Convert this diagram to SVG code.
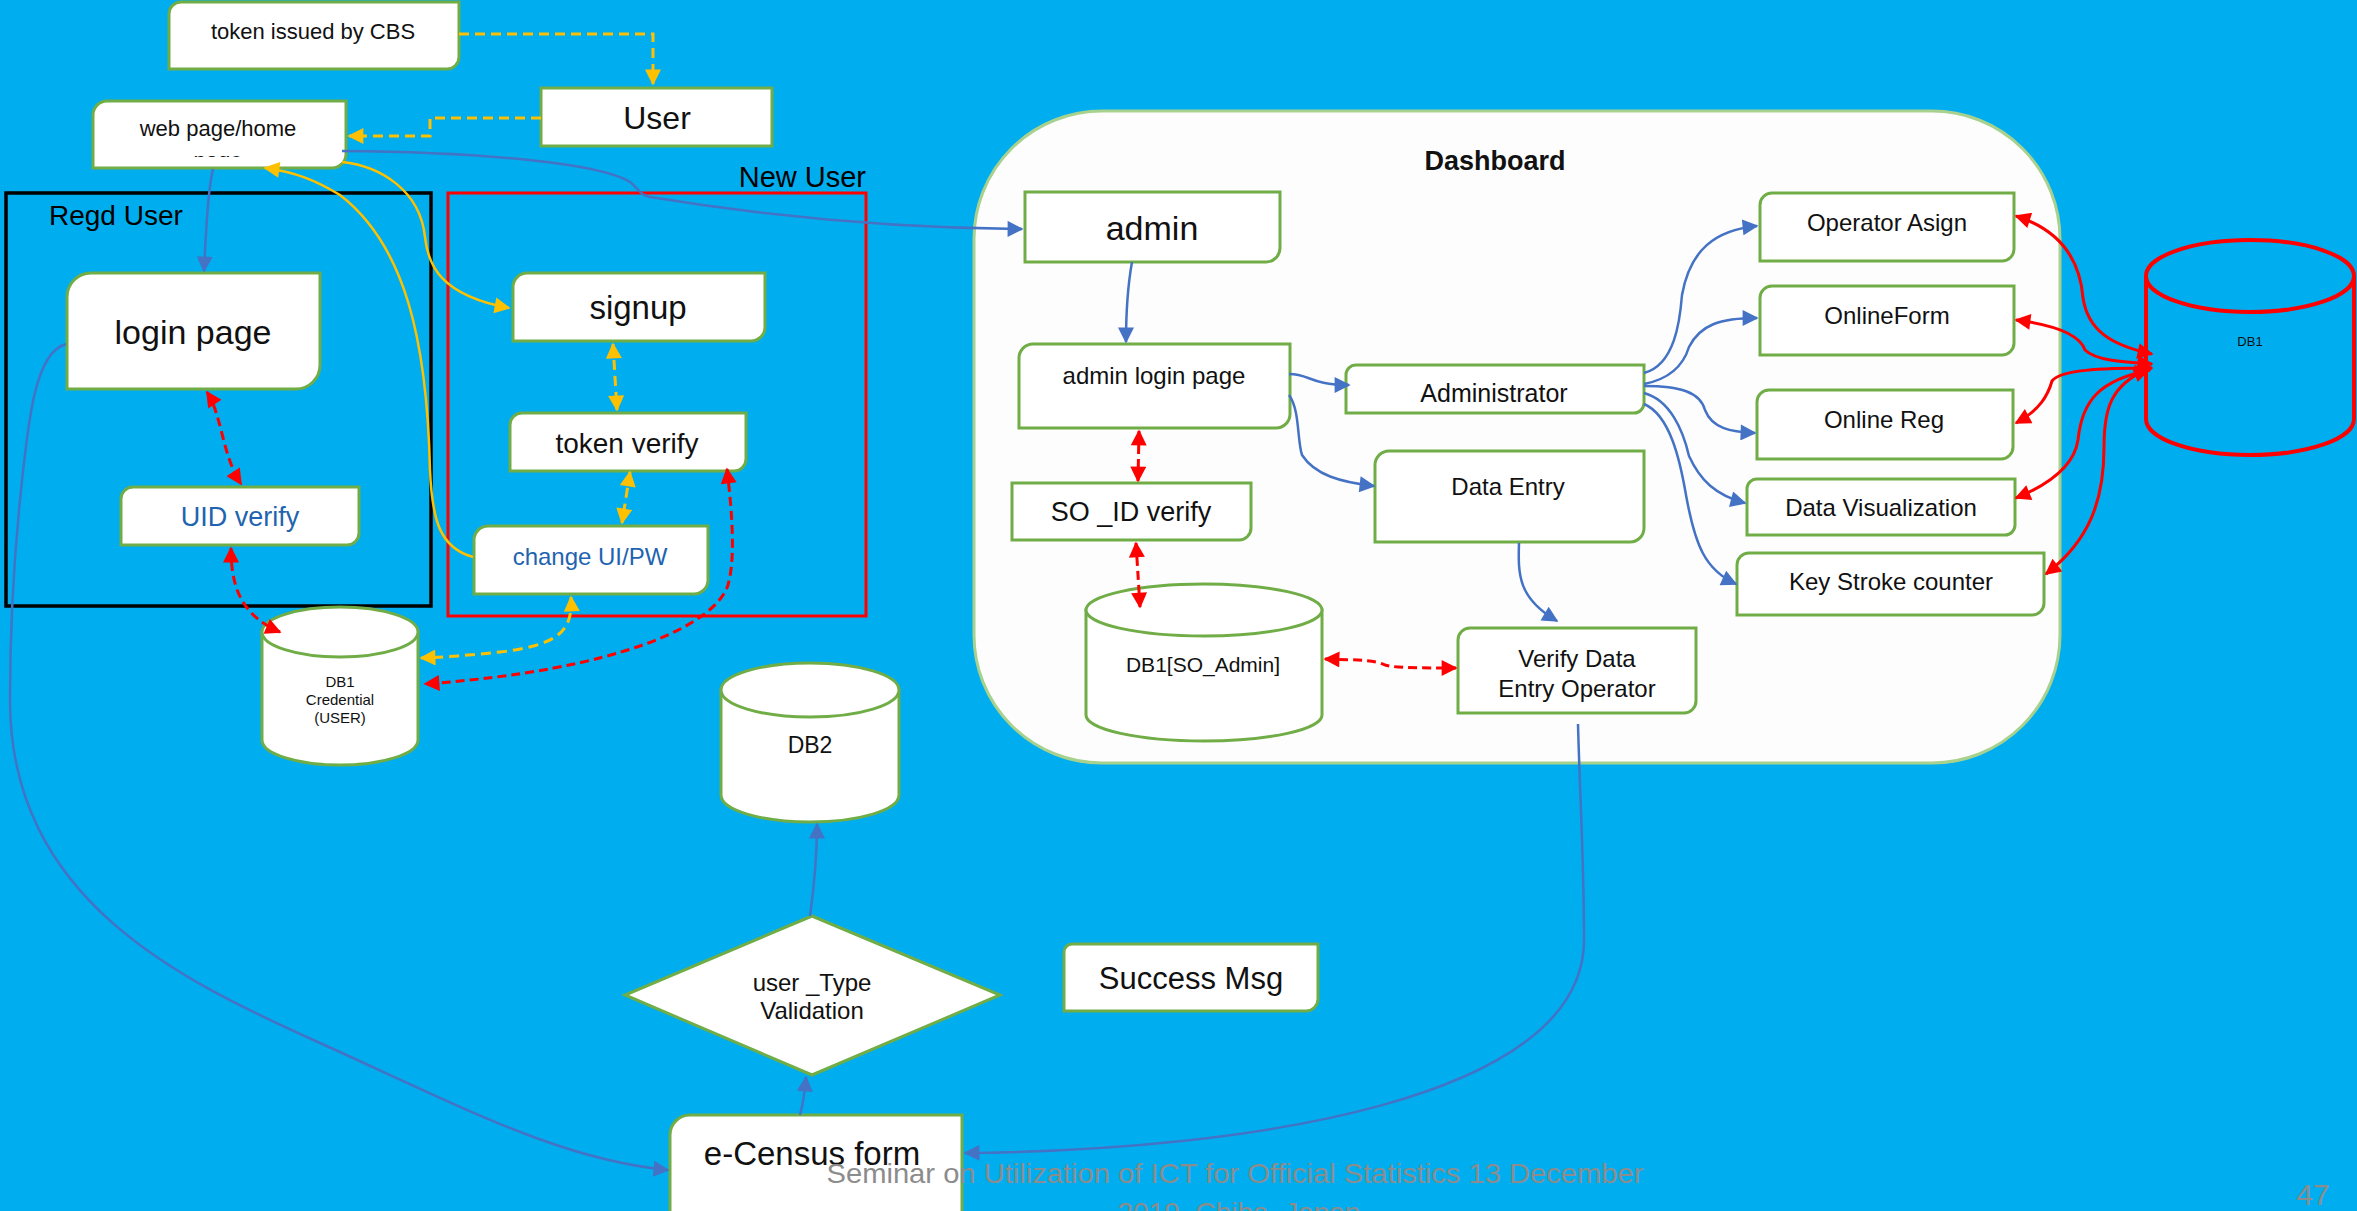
<svg xmlns="http://www.w3.org/2000/svg" width="2357" height="1211" viewBox="0 0 2357 1211">
<defs>
<style>
.bg{fill:#00AEEF}
.box{fill:#FFFFFF;stroke:#70AD47;stroke-width:3}
.t{font-family:"Liberation Sans",Arial,sans-serif;text-anchor:middle;dominant-baseline:central;fill:#111}
.tb{fill:#1F64B0}
.lbl{font-family:"Liberation Sans",Arial,sans-serif;dominant-baseline:central;fill:#000}
.cb{fill:none;stroke:#4472C4;stroke-width:2.5;marker-end:url(#ab)}
.cr{fill:none;stroke:#FF0000;stroke-width:3;marker-start:url(#ar);marker-end:url(#ar)}
.crd{fill:none;stroke:#FF0000;stroke-width:3;stroke-dasharray:9 5;marker-start:url(#ar);marker-end:url(#ar)}
.cyd{fill:none;stroke:#FFC000;stroke-width:3;stroke-dasharray:10 6}
.cys{fill:none;stroke:#FFC000;stroke-width:2.5}
.foot{font-family:"Liberation Sans",Arial,sans-serif;fill:#8C8C8C}
</style>
<marker id="ab" viewBox="0 0 10 10" refX="9" refY="5" markerUnits="userSpaceOnUse" markerWidth="19" markerHeight="16" orient="auto-start-reverse"><path d="M0,0 L10,5 L0,10 z" fill="#4472C4"/></marker>
<marker id="ar" viewBox="0 0 10 10" refX="9" refY="5" markerUnits="userSpaceOnUse" markerWidth="19" markerHeight="16" orient="auto-start-reverse"><path d="M0,0 L10,5 L0,10 z" fill="#FF0000"/></marker>
<marker id="ay" viewBox="0 0 10 10" refX="9" refY="5" markerUnits="userSpaceOnUse" markerWidth="19" markerHeight="16" orient="auto-start-reverse"><path d="M0,0 L10,5 L0,10 z" fill="#FFC000"/></marker>
<clipPath id="clipPage"><rect x="93" y="140" width="253" height="17"/></clipPath>
</defs>

<rect class="bg" x="0" y="0" width="2357" height="1211"/>

<g id="dashboard">
<rect x="974" y="111" width="1086" height="652" rx="128" ry="128" fill="#FDFDFD" stroke="#A9D18E" stroke-width="3"/>
<text class="t" x="1495" y="161" font-size="27" font-weight="bold" fill="#222">Dashboard</text>
</g>

<g id="regd-user">
<rect x="6" y="193" width="425" height="413" fill="none" stroke="#000" stroke-width="3.5"/>
<text class="lbl" x="49" y="215" font-size="28">Regd User</text>
</g>

<g id="new-user">
<rect x="448" y="193" width="418" height="423" fill="none" stroke="#FF0000" stroke-width="3"/>
<text class="lbl" x="866" y="177" font-size="29" text-anchor="end">New User</text>
</g>

<g id="token-cbs">
<path class="box" d="M181,2 H459 V57 A12,12 0 0 1 447,69 H169 V14 A12,12 0 0 1 181,2 Z"/>
<text class="t" x="313" y="31" font-size="22">token issued by CBS</text>
</g>

<g id="user">
<rect class="box" x="541" y="88" width="231" height="58"/>
<text class="t" x="657" y="118" font-size="32">User</text>
</g>

<g id="web-page">
<path class="box" d="M107,101 H346 V154 A14,14 0 0 1 332,168 H93 V115 A14,14 0 0 1 107,101 Z"/>
<text class="t" x="218" y="128" font-size="22">web page/home</text>
<text class="t" x="218" y="160" font-size="22" clip-path="url(#clipPage)">page</text>
</g>

<g id="login-page">
<path class="box" d="M91,273 H320 V365 A24,24 0 0 1 296,389 H67 V297 A24,24 0 0 1 91,273 Z"/>
<text class="t" x="193" y="332" font-size="34">login page</text>
</g>

<g id="uid-verify">
<path class="box" d="M133,487 H359 V533 A12,12 0 0 1 347,545 H121 V499 A12,12 0 0 1 133,487 Z"/>
<text class="t tb" x="240" y="517" font-size="27">UID verify</text>
</g>

<g id="signup">
<path class="box" d="M527,273 H765 V327 A14,14 0 0 1 751,341 H513 V287 A14,14 0 0 1 527,273 Z"/>
<text class="t" x="638" y="307" font-size="33">signup</text>
</g>

<g id="token-verify">
<path class="box" d="M522,413 H746 V459 A12,12 0 0 1 734,471 H510 V425 A12,12 0 0 1 522,413 Z"/>
<text class="t" x="627" y="443" font-size="28">token verify</text>
</g>

<g id="change-uipw">
<path class="box" d="M488,526 H708 V580 A14,14 0 0 1 694,594 H474 V540 A14,14 0 0 1 488,526 Z"/>
<text class="t tb" x="590" y="556" font-size="24">change UI/PW</text>
</g>

<g id="db1-credential">
<path class="box" d="M262,632 V740 A78,25 0 0 0 418,740 V632 Z"/>
<ellipse class="box" cx="340" cy="632" rx="78" ry="25"/>
<text class="t" x="340" y="681" font-size="15">DB1</text>
<text class="t" x="340" y="699" font-size="15">Credential</text>
<text class="t" x="340" y="717" font-size="15">(USER)</text>
</g>

<g id="db2">
<path class="box" d="M721,690 V795 A89,27 0 0 0 899,795 V690 Z"/>
<ellipse class="box" cx="810" cy="690" rx="89" ry="27"/>
<text class="t" x="810" y="745" font-size="23">DB2</text>
</g>

<g id="user-type-validation">
<polygon class="box" points="812,916 1000,995 812,1075 625,995"/>
<text class="t" x="812" y="982" font-size="24">user _Type</text>
<text class="t" x="812" y="1010" font-size="24">Validation</text>
</g>

<g id="ecensus-form">
<path class="box" d="M690,1115 H962 V1240 H670 V1135 A20,20 0 0 1 690,1115 Z"/>
<text class="t" x="812" y="1153" font-size="33">e-Census form</text>
</g>

<g id="success-msg">
<path class="box" d="M1072,944 H1318 V999 A12,12 0 0 1 1306,1011 H1064 V952 A8,8 0 0 1 1072,944 Z"/>
<text class="t" x="1191" y="978" font-size="31">Success Msg</text>
</g>

<g id="admin">
<path class="box" d="M1025,192 H1280 V248 A14,14 0 0 1 1266,262 H1025 Z"/>
<text class="t" x="1152" y="228" font-size="34">admin</text>
</g>

<g id="admin-login-page">
<path class="box" d="M1033,344 H1290 V414 A14,14 0 0 1 1276,428 H1019 V358 A14,14 0 0 1 1033,344 Z"/>
<text class="t" x="1154" y="375" font-size="24">admin login page</text>
</g>

<g id="administrator">
<path class="box" d="M1356,365 H1644 V403 A10,10 0 0 1 1634,413 H1346 V375 A10,10 0 0 1 1356,365 Z"/>
<text class="t" x="1494" y="393" font-size="25">Administrator</text>
</g>

<g id="so-id-verify">
<path class="box" d="M1012,483 H1251 V528 A12,12 0 0 1 1239,540 H1012 Z"/>
<text class="t" x="1131" y="512" font-size="27">SO _ID verify</text>
</g>

<g id="data-entry">
<path class="box" d="M1389,451 H1644 V528 A14,14 0 0 1 1630,542 H1375 V465 A14,14 0 0 1 1389,451 Z"/>
<text class="t" x="1508" y="486" font-size="24">Data Entry</text>
</g>

<g id="db1-so-admin">
<path class="box" d="M1086,610 V715 A118,26 0 0 0 1322,715 V610 Z"/>
<ellipse class="box" cx="1204" cy="610" rx="118" ry="26"/>
<text class="t" x="1203" y="664" font-size="21">DB1[SO_Admin]</text>
</g>

<g id="verify-data-entry-operator">
<path class="box" d="M1470,628 H1696 V701 A12,12 0 0 1 1684,713 H1458 V640 A12,12 0 0 1 1470,628 Z"/>
<text class="t" x="1577" y="658" font-size="24">Verify Data</text>
<text class="t" x="1577" y="688" font-size="24">Entry Operator</text>
</g>

<g id="operator-asign">
<path class="box" d="M1772,193 H2014 V249 A12,12 0 0 1 2002,261 H1760 V205 A12,12 0 0 1 1772,193 Z"/>
<text class="t" x="1887" y="222" font-size="24">Operator Asign</text>
</g>

<g id="online-form">
<path class="box" d="M1772,286 H2014 V343 A12,12 0 0 1 2002,355 H1760 V298 A12,12 0 0 1 1772,286 Z"/>
<text class="t" x="1887" y="315" font-size="24">OnlineForm</text>
</g>

<g id="online-reg">
<path class="box" d="M1769,390 H2013 V447 A12,12 0 0 1 2001,459 H1757 V402 A12,12 0 0 1 1769,390 Z"/>
<text class="t" x="1884" y="419" font-size="24">Online Reg</text>
</g>

<g id="data-visualization">
<path class="box" d="M1757,479 H2015 V525 A10,10 0 0 1 2005,535 H1747 V489 A10,10 0 0 1 1757,479 Z"/>
<text class="t" x="1881" y="507" font-size="24">Data Visualization</text>
</g>

<g id="key-stroke-counter">
<path class="box" d="M1749,553 H2044 V603 A12,12 0 0 1 2032,615 H1737 V565 A12,12 0 0 1 1749,553 Z"/>
<text class="t" x="1891" y="581" font-size="24">Key Stroke counter</text>
</g>

<g id="db1">
<path d="M2146,276 V419 A104,36 0 0 0 2354,419 V276" fill="none" stroke="#FF0000" stroke-width="4"/>
<ellipse cx="2250" cy="276" rx="104" ry="36" fill="none" stroke="#FF0000" stroke-width="4"/>
<text class="t" x="2250" y="341" font-size="13">DB1</text>
</g>

<g id="connectors">
<path class="cyd" d="M459,34 H653 V84" marker-end="url(#ay)"/>
<path class="cyd" d="M541,118 H430 V136 H349" marker-end="url(#ay)"/>
<path class="cb" d="M213,169 C208,190 206,230 204,271"/>
<path class="cb" d="M342,151 C480,152 600,163 630,182 C640,190 640,195 650,197 C760,215 880,228 1022,229"/>
<path class="cys" d="M342,162 C380,166 420,190 425,237 C428,265 440,295 509,308" marker-end="url(#ay)"/>
<path class="cys" d="M473,557 C440,548 432,520 430,470 C427,340 405,245 340,195 C315,180 295,172 265,168" marker-end="url(#ay)"/>
<path class="crd" d="M207,392 C222,415 222,455 241,484"/>
<path class="crd" d="M231,548 C231,585 240,615 280,632"/>
<path class="cyd" d="M613,344 L617,410" marker-start="url(#ay)" marker-end="url(#ay)"/>
<path class="cyd" d="M630,472 L622,523" marker-start="url(#ay)" marker-end="url(#ay)"/>
<path class="crd" d="M727,469 C733,520 735,560 728,585 C715,625 620,670 425,684"/>
<path class="cyd" d="M571,597 C573,630 560,645 500,652 C470,655 450,657 421,658" marker-start="url(#ay)" marker-end="url(#ay)"/>
<path class="cb" d="M66,344 C35,352 28,420 20,500 C12,580 10,640 10,700 C10,900 180,980 320,1043 S560,1160 668,1170"/>
<path class="cb" d="M1578,724 C1580,800 1584,860 1584,940 C1584,1100 1250,1150 965,1153"/>
<path class="cb" d="M800,1115 C804,1100 805,1090 806,1077"/>
<path class="cb" d="M810,916 C815,880 817,850 817,824"/>
<path class="cb" d="M1132,262 C1127,290 1126,320 1126,342"/>
<path class="cb" d="M1289,374 C1310,374 1310,385 1349,385"/>
<path class="cb" d="M1289,395 C1300,410 1297,440 1302,455 C1315,475 1340,482 1374,486"/>
<path class="crd" d="M1139,431 L1138,481"/>
<path class="crd" d="M1136,543 L1140,607"/>
<path class="crd" d="M1325,659 C1360,660 1375,660 1385,665 C1395,668 1420,668 1456,668"/>
<path class="cb" d="M1519,543 C1518,575 1518,598 1557,621"/>
<path class="cb" d="M1644,373 C1675,365 1680,320 1682,295 C1690,250 1715,230 1757,226"/>
<path class="cb" d="M1644,384 C1675,378 1685,360 1689,347 C1700,325 1720,318 1757,318"/>
<path class="cb" d="M1644,386 C1680,386 1700,392 1705,410 C1712,428 1730,432 1755,433"/>
<path class="cb" d="M1644,393 C1670,400 1683,430 1689,456 C1700,480 1715,495 1745,503"/>
<path class="cb" d="M1644,404 C1670,415 1680,460 1686,495 C1695,545 1705,570 1736,584"/>
<path class="cr" d="M2016,216 C2060,230 2080,260 2083,298 C2088,330 2110,345 2152,354"/>
<path class="cr" d="M2016,320 C2055,325 2080,335 2085,350 C2095,360 2120,362 2152,364"/>
<path class="cr" d="M2016,423 C2040,410 2048,395 2052,381 C2060,370 2100,368 2152,368"/>
<path class="cr" d="M2016,498 C2060,480 2075,460 2078,440 C2082,400 2100,380 2150,370"/>
<path class="cr" d="M2046,574 C2090,540 2104,500 2104,447 C2104,410 2110,385 2148,369"/>
</g>

<g id="footer">
<text class="foot" x="1235" y="1183" font-size="28" text-anchor="middle" textLength="817" lengthAdjust="spacingAndGlyphs">Seminar on Utilization of ICT for Official Statistics 13 December</text>
<text class="foot" x="1239" y="1222" font-size="28" text-anchor="middle">2019, Chiba, Japan</text>
<text class="foot" x="2313" y="1205" font-size="30" text-anchor="middle">47</text>
</g>
</svg>
